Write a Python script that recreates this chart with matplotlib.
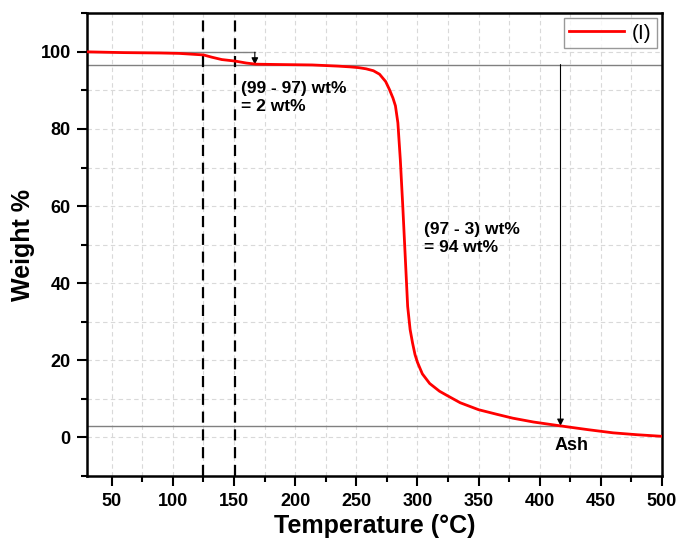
import matplotlib

matplotlib.use("agg")
import matplotlib.pyplot as plt
from matplotlib.ticker import MultipleLocator

plt.rcParams['font.family'] = ['Liberation Sans', 'DejaVu Sans']

# TGA curve
temp = [30, 60, 90, 105, 115, 125, 132, 140, 151, 160, 168, 190, 214, 235,
        245, 252, 258, 264, 269, 274, 277, 280, 282, 284, 286, 288, 290, 292,
        294, 296, 298, 300, 304, 310, 318, 323, 335, 350, 365, 378, 395, 417,
        440, 460, 480, 500]
weight = [100, 99.8, 99.7, 99.6, 99.4, 99.2, 98.6, 98.0, 97.6, 97.1, 96.8,
          96.7, 96.6, 96.3, 96.1, 95.9, 95.6, 95.1, 94.2, 92.3, 90.3, 88.0,
          86.0, 81.6, 72.0, 60.0, 47.0, 34.0, 28.0, 24.5, 21.5, 19.5, 16.5,
          14.0, 12.0, 11.1, 9.0, 7.2, 6.0, 5.0, 4.0, 3.0, 2.0, 1.2, 0.7, 0.3]

step_lines = [125, 151]          # dashed vertical marks
level_start = 99.9               # start level
level_mid = 96.7                 # after moisture loss
level_ash = 3.0                  # residue
arrow1_t = 167
arrow2_t = 417

fig = plt.figure(figsize=(6.8, 5.38), dpi=100)
ax = fig.add_axes([0.1284, 0.1152, 0.8451, 0.8601])

ax.set_xlim(30, 500)
ax.set_ylim(-10, 110)

ax.xaxis.set_major_locator(MultipleLocator(50))
ax.xaxis.set_minor_locator(MultipleLocator(25))
ax.yaxis.set_major_locator(MultipleLocator(20))
ax.yaxis.set_minor_locator(MultipleLocator(10))
ax.grid(True, which='both', color='#d9d9d9', linestyle=(0, (4, 3)), linewidth=0.8)
ax.set_axisbelow(True)

ax.tick_params(axis='both', which='major', direction='out', length=7, width=1.5,
               labelsize=13, pad=5, top=False, right=False)
ax.tick_params(axis='both', which='minor', direction='out', length=4, width=1.5,
               top=False, right=False)
for lab in ax.get_xticklabels() + ax.get_yticklabels():
    lab.set_fontweight('bold')
for s in ax.spines.values():
    s.set_linewidth(1.8)

# guide lines
ax.plot([30, arrow1_t], [level_start, level_start], color='#808080', lw=1)
ax.plot([30, 500], [level_mid, level_mid], color='#808080', lw=1)
ax.plot([30, arrow2_t], [level_ash, level_ash], color='#808080', lw=1)
for t in step_lines:
    ax.axvline(t, color='black', lw=1.6, linestyle=(0, (5, 3)))

ax.annotate('', xy=(arrow1_t, level_mid), xytext=(arrow1_t, level_start),
            arrowprops=dict(arrowstyle='-|>', color='black', lw=0.8,
                            mutation_scale=10, shrinkA=0, shrinkB=0))
ax.annotate('', xy=(arrow2_t, level_ash), xytext=(arrow2_t, level_mid),
            arrowprops=dict(arrowstyle='-|>', color='black', lw=0.8,
                            mutation_scale=10, shrinkA=0, shrinkB=0))

ax.plot(temp, weight, color='#ff0000', lw=2, label='(I)', zorder=5)

ax.text(156, 92.5, '(99 - 97) wt%\n= 2 wt%', fontsize=12.5, fontweight='bold',
        va='top', ha='left', linespacing=1.3)
ax.text(305, 56, '(97 - 3) wt%\n= 94 wt%', fontsize=12.5, fontweight='bold',
        va='top', ha='left', linespacing=1.3)
ax.text(426, -2, 'Ash', fontsize=13, fontweight='bold', va='center', ha='center')

ax.set_xlabel('Temperature (°C)', fontsize=18, fontweight='bold', labelpad=3)
ax.set_ylabel('Weight %', fontsize=18, fontweight='bold', labelpad=4)

leg = ax.legend(loc='upper right', fontsize=15, frameon=True, fancybox=False,
                borderaxespad=0.25, handlelength=2.6, handletextpad=0.4,
                borderpad=0.25)
leg.get_frame().set_edgecolor('#808080')
leg.get_frame().set_linewidth(1)

plt.savefig("out.png", dpi=100)
